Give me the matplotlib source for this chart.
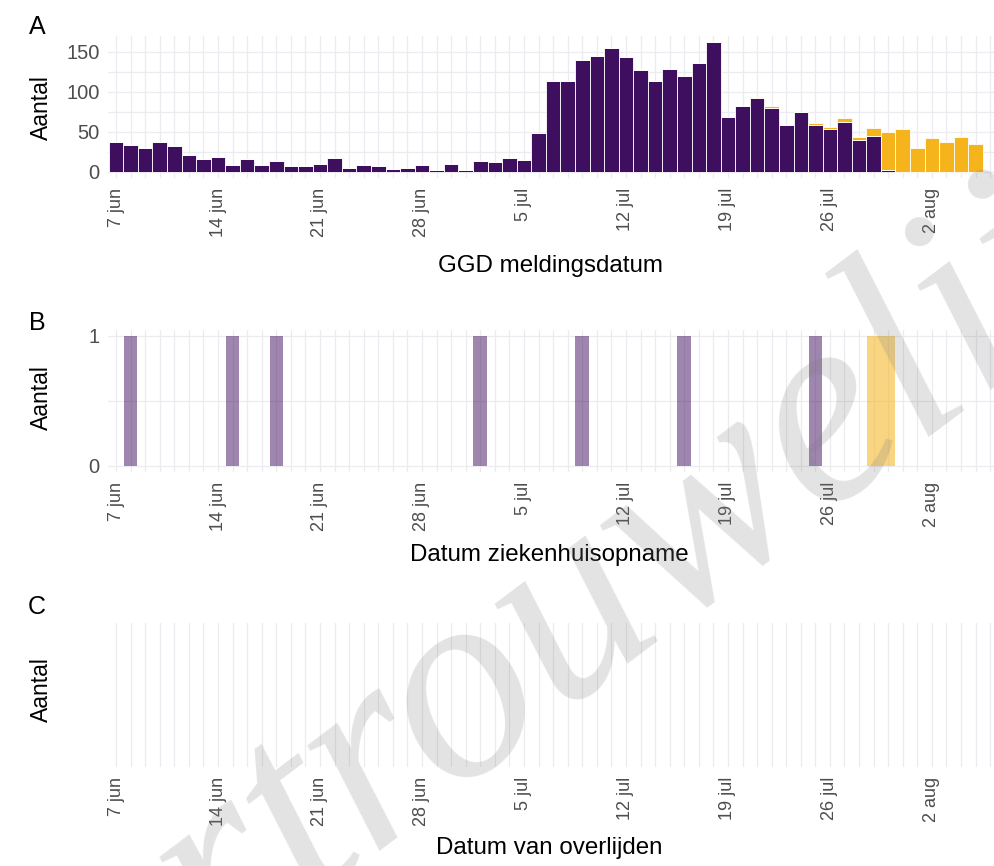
import numpy as np
import pandas as pd
import matplotlib
matplotlib.use("Agg")
import matplotlib.pyplot as plt
import matplotlib.dates as mdates

plt.rcParams['font.family'] = ['Liberation Sans', 'DejaVu Sans']

# 60 days, 7 jun - 5 aug
dates = pd.date_range("2020-06-07", "2020-08-05", freq="D")

# Panel A: GGD meldingen (purple = definitief, orange = recent / onvolledig)
meld_purple = [37, 33, 30, 37, 32, 21, 16, 19, 8, 16, 9, 13, 7, 7, 10, 17, 5, 9, 7, 4,
               5, 9, 2, 10, 2, 13, 12, 17, 15, 48, 113, 113, 139, 144, 154, 143, 127, 113, 128, 119,
               136, 162, 69, 82, 92, 80, 58, 75, 59, 54, 62, 40, 45, 2, 0, 0, 0, 0, 0, 0]
meld_orange = [0, 0, 0, 0, 0, 0, 0, 0, 0, 0, 0, 0, 0, 0, 0, 0, 0, 0, 0, 0,
               0, 0, 0, 0, 0, 0, 0, 0, 0, 0, 0, 0, 0, 0, 0, 0, 0, 0, 0, 0,
               0, 0, 0, 0, 1, 2, 0, 0, 2, 2, 5, 4, 10, 48, 53, 30, 42, 37, 44, 35]

# Panel B: ziekenhuisopnames
opname_purple_dates = ["2020-06-08", "2020-06-15", "2020-06-18", "2020-07-02",
                       "2020-07-09", "2020-07-16", "2020-07-25"]
opname_orange_dates = ["2020-07-29", "2020-07-30"]
opname_purple = [1, 1, 1, 1, 1, 1, 1]
opname_orange = [1, 1]

tick_dates = pd.date_range("2020-06-07", "2020-08-02", freq="7D")
tick_labels = ["7 jun", "14 jun", "21 jun", "28 jun", "5 jul", "12 jul", "19 jul", "26 jul", "2 aug"]

PURPLE = "#3f0f5f"
ORANGE = "#f5b31c"
GRID = "#ebebf0"
TICKCOL = "#4d4d4d"

W, H = 995, 866
fig = plt.figure(figsize=(W / 100, H / 100), dpi=100)


def rect(l, t, r, b):
    return [l / W, 1 - b / H, (r - l) / W, (b - t) / H]


x = mdates.date2num(dates)
x0 = x[0]
xlim = (x0 - 0.55, x0 + 60.33)


def style(ax, ylabel_y):
    ax.set_xlim(*xlim)
    for s in ax.spines.values():
        s.set_visible(False)
    for d in range(0, 61):
        ax.axvline(x0 + d, color=GRID, lw=0.9, zorder=0)
    ax.set_xticks(mdates.date2num(tick_dates))
    ax.set_xticklabels(tick_labels, rotation=90, color=TICKCOL, fontsize=13,
                       ha="center", va="top")
    ax.tick_params(axis="both", length=0, pad=7)
    ax.tick_params(axis="y", labelcolor=TICKCOL, labelsize=14.5, pad=6)
    fig.text(41 / W, 1 - ylabel_y / H, "Aantal", rotation=90, fontsize=16.5,
             ha="center", va="center")


# ---- A ----
axA = fig.add_axes(rect(108, 35.6, 995, 178.2))
style(axA, 108)
for yv in range(0, 175, 25):
    axA.axhline(yv, color=GRID, lw=0.9, zorder=0)
axA.bar(x, meld_purple, width=1.0, color=PURPLE, edgecolor="white", linewidth=0.6, zorder=2)
axA.bar(x, meld_orange, width=1.0, bottom=meld_purple, color=ORANGE,
        edgecolor="white", linewidth=0.6, zorder=2)
axA.set_ylim(-8.1, 170.1)
axA.set_yticks([0, 50, 100, 150])
fig.text(551 / W, 1 - 266 / H, "GGD meldingsdatum", fontsize=17.4, ha="center", va="center")
fig.text(37 / W, 1 - 27 / H, "A", fontsize=18, ha="center", va="center")

# ---- B ----
axB = fig.add_axes(rect(108, 329.5, 995, 472.2))
style(axB, 398)
for yv in [0, 0.5, 1]:
    axB.axhline(yv, color=GRID, lw=0.9, zorder=0)
axB.bar(mdates.date2num(pd.to_datetime(opname_purple_dates)), opname_purple, width=0.93,
        color=PURPLE, alpha=0.5, linewidth=0, zorder=2)
axB.bar(mdates.date2num(pd.to_datetime(opname_orange_dates)), opname_orange, width=0.97,
        color=ORANGE, alpha=0.55, linewidth=0, zorder=2)
axB.set_ylim(-0.05, 1.05)
axB.set_yticks([0, 1])
fig.text(549 / W, 1 - 555 / H, "Datum ziekenhuisopname", fontsize=17.4, ha="center", va="center")
fig.text(37 / W, 1 - 323 / H, "B", fontsize=18, ha="center", va="center")

# ---- C ----
axC = fig.add_axes(rect(108, 623, 995, 767))
style(axC, 690)
axC.set_ylim(0, 1)
axC.set_yticks([])
fig.text(549 / W, 1 - 848 / H, "Datum van overlijden", fontsize=17.4, ha="center", va="center")
fig.text(37 / W, 1 - 607 / H, "C", fontsize=18, ha="center", va="center")

# watermark
fig.text(0.575, 0.285, "vertrouwelijk", rotation=37, fontsize=200, family="Liberation Serif",
         style="italic", color="#808080", alpha=0.22, ha="center", va="center", zorder=10)

fig.savefig("out.png", dpi=100)
